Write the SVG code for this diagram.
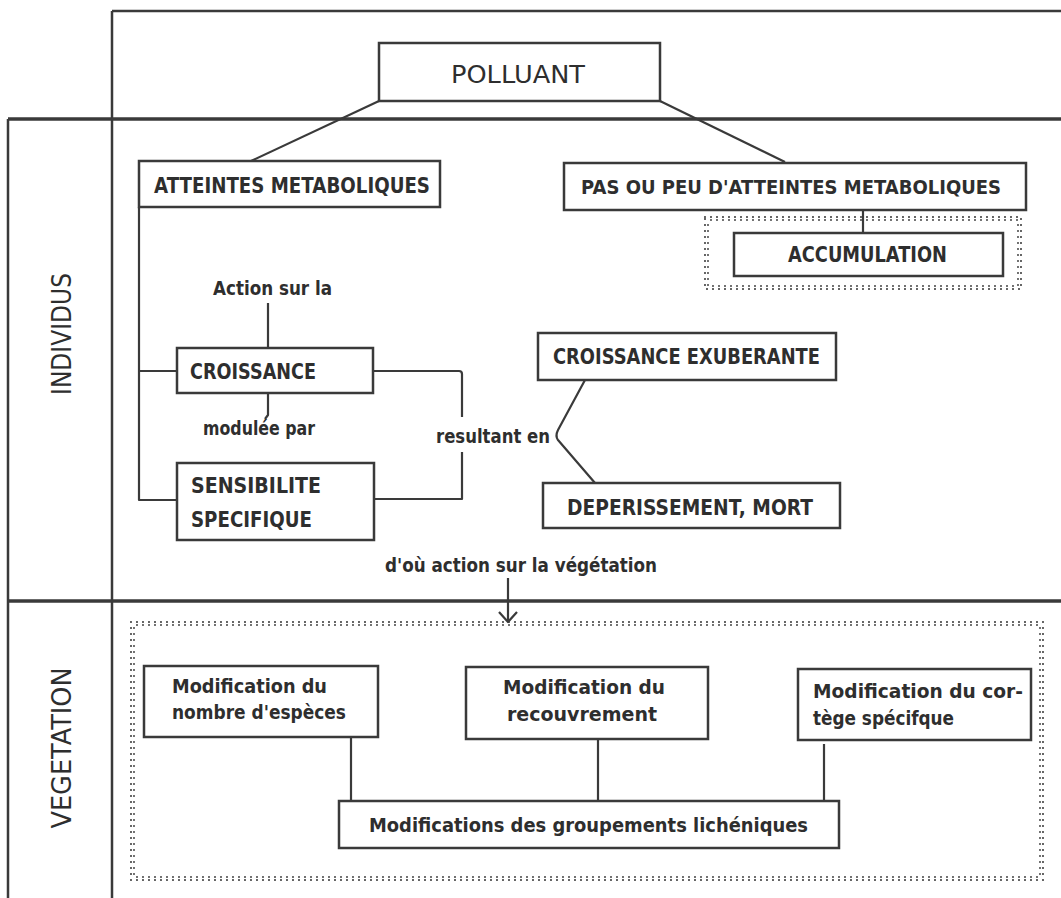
<svg xmlns="http://www.w3.org/2000/svg" width="1061" height="898" viewBox="0 0 1061 898">
  <style>
    .box { fill: none; stroke: #3a3a3a; stroke-width: 2.5; }
    .ln { fill: none; stroke: #3a3a3a; stroke-width: 2.2; stroke-linejoin: round; }
    .frame { fill: none; stroke: #3a3a3a; stroke-width: 2.5; }
    .thick { fill: none; stroke: #3a3a3a; stroke-width: 3.5; }
    .dot { fill: none; stroke: #444; stroke-width: 2.2; stroke-linecap: round; stroke-dasharray: 0 6; }
    .dot2 { fill: none; stroke: #444; stroke-width: 2; stroke-linecap: round; stroke-dasharray: 0 6; stroke-dashoffset: 3; }
    .cap { font-family: "DejaVu Sans", "Liberation Sans", sans-serif; font-size: 21px; fill: #2e2e2e; font-weight: 600; }
    .big { font-family: "DejaVu Sans", "Liberation Sans", sans-serif; font-size: 24px; fill: #2e2e2e; font-weight: 500; }
    .low { font-family: "DejaVu Sans", "Liberation Sans", sans-serif; font-size: 19px; fill: #2e2e2e; font-weight: bold; }
    .side { font-family: "DejaVu Sans", "Liberation Sans", sans-serif; font-size: 26px; fill: #2e2e2e; }
  </style>
  <rect x="0" y="0" width="1061" height="898" fill="#ffffff"/>

  <g id="frame">
    <path class="frame" d="M112,11 H1061"/>
    <path class="frame" d="M112,11 V898"/>
    <path class="frame" d="M8,119 V898"/>
    <path class="thick" d="M8,119 H1061"/>
    <path class="thick" d="M8,601 H1061"/>
    <text class="side" transform="translate(71,334) rotate(-90)" text-anchor="middle" textLength="122" lengthAdjust="spacingAndGlyphs">INDIVIDUS</text>
    <text class="side" transform="translate(71,748) rotate(-90)" text-anchor="middle" textLength="161" lengthAdjust="spacingAndGlyphs">VEGETATION</text>
  </g>

  <g id="dotted-areas">
    <rect class="dot" x="705" y="217" width="316" height="72"/>
    <rect class="dot2" x="708" y="220" width="310" height="66"/>
    <rect class="dot" x="131" y="622" width="912" height="258"/>
    <rect class="dot2" x="134" y="625" width="906" height="252"/>
  </g>

  <g id="connectors">
    <path class="ln" d="M379,101 L251,161"/>
    <path class="ln" d="M660,101 L785,162"/>
    <path class="ln" d="M863,210 V233"/>
    <path class="ln" d="M139,207 V500 H177"/>
    <path class="ln" d="M139,371 H177"/>
    <path class="ln" d="M268,303 V348"/>
    <path class="ln" d="M268,393 V415 L265,419"/>
    <path class="ln" d="M373,371 H459 Q462,371 462,374 V417"/>
    <path class="ln" d="M462,452 V499 H374"/>
    <path class="ln" d="M585,380 L558,430 Q555,436 558,440 L595,483"/>
    <path class="ln" d="M508,578 V621"/>
    <path class="ln" d="M499,612 L508,622 L517,612"/>
    <path class="ln" d="M351,737 V801"/>
    <path class="ln" d="M598,739 V801"/>
    <path class="ln" d="M824,744 V801"/>
  </g>

  <g id="polluant">
    <rect class="box" x="379" y="43" width="281" height="58"/>
    <text class="big" x="451" y="83" textLength="134" lengthAdjust="spacingAndGlyphs">POLLUANT</text>
  </g>
  <g id="atteintes">
    <rect class="box" x="139" y="161" width="301" height="46"/>
    <text class="cap" x="154" y="193" textLength="276" lengthAdjust="spacingAndGlyphs">ATTEINTES METABOLIQUES</text>
  </g>
  <g id="pas-ou-peu">
    <rect class="box" x="564" y="163" width="462" height="47"/>
    <text class="cap" x="581" y="194" style="font-size:19px" textLength="420" lengthAdjust="spacingAndGlyphs">PAS OU PEU D'ATTEINTES METABOLIQUES</text>
  </g>
  <g id="accumulation">
    <rect class="box" x="734" y="233" width="269" height="43"/>
    <text class="cap" x="788" y="262" textLength="159" lengthAdjust="spacingAndGlyphs">ACCUMULATION</text>
  </g>
  <g id="label-action">
    <text class="low" x="213" y="295" textLength="119" lengthAdjust="spacingAndGlyphs">Action sur la</text>
  </g>
  <g id="croissance">
    <rect class="box" x="177" y="348" width="196" height="45"/>
    <text class="cap" x="190" y="379" textLength="126" lengthAdjust="spacingAndGlyphs">CROISSANCE</text>
  </g>
  <g id="label-modulee">
    <text class="low" x="203" y="435" textLength="112" lengthAdjust="spacingAndGlyphs">modulée par</text>
  </g>
  <g id="sensibilite">
    <rect class="box" x="177" y="463" width="197" height="77"/>
    <text class="cap" x="191" y="493" textLength="130" lengthAdjust="spacingAndGlyphs">SENSIBILITE</text>
    <text class="cap" x="191" y="527" textLength="121" lengthAdjust="spacingAndGlyphs">SPECIFIQUE</text>
  </g>
  <g id="label-resultant">
    <text class="low" x="436" y="443" textLength="114" lengthAdjust="spacingAndGlyphs">resultant en</text>
  </g>
  <g id="croissance-exuberante">
    <rect class="box" x="538" y="333" width="298" height="47"/>
    <text class="cap" x="553" y="364" textLength="267" lengthAdjust="spacingAndGlyphs">CROISSANCE EXUBERANTE</text>
  </g>
  <g id="deperissement">
    <rect class="box" x="543" y="483" width="297" height="45"/>
    <text class="cap" x="567" y="515" textLength="246" lengthAdjust="spacingAndGlyphs">DEPERISSEMENT, MORT</text>
  </g>
  <g id="label-dou">
    <text class="low" x="385" y="572" textLength="272" lengthAdjust="spacingAndGlyphs">d'où action sur la végétation</text>
  </g>
  <g id="mod-nombre">
    <rect class="box" x="144" y="666" width="234" height="71"/>
    <text class="low" x="172" y="693" textLength="155" lengthAdjust="spacingAndGlyphs">Modification du</text>
    <text class="low" x="172" y="719" textLength="174" lengthAdjust="spacingAndGlyphs">nombre d'espèces</text>
  </g>
  <g id="mod-recouvrement">
    <rect class="box" x="466" y="667" width="242" height="72"/>
    <text class="low" x="503" y="694" textLength="162" lengthAdjust="spacingAndGlyphs">Modification du</text>
    <text class="low" x="507" y="721" textLength="150" lengthAdjust="spacingAndGlyphs">recouvrement</text>
  </g>
  <g id="mod-cortege">
    <rect class="box" x="798" y="669" width="233" height="71"/>
    <text class="low" x="813" y="698" textLength="210" lengthAdjust="spacingAndGlyphs">Modification du cor-</text>
    <text class="low" x="813" y="725" textLength="141" lengthAdjust="spacingAndGlyphs">tège spécifque</text>
  </g>
  <g id="mod-groupements">
    <rect class="box" x="339" y="801" width="500" height="47"/>
    <text class="low" x="369" y="832" textLength="439" lengthAdjust="spacingAndGlyphs">Modifications des groupements lichéniques</text>
  </g>
</svg>
